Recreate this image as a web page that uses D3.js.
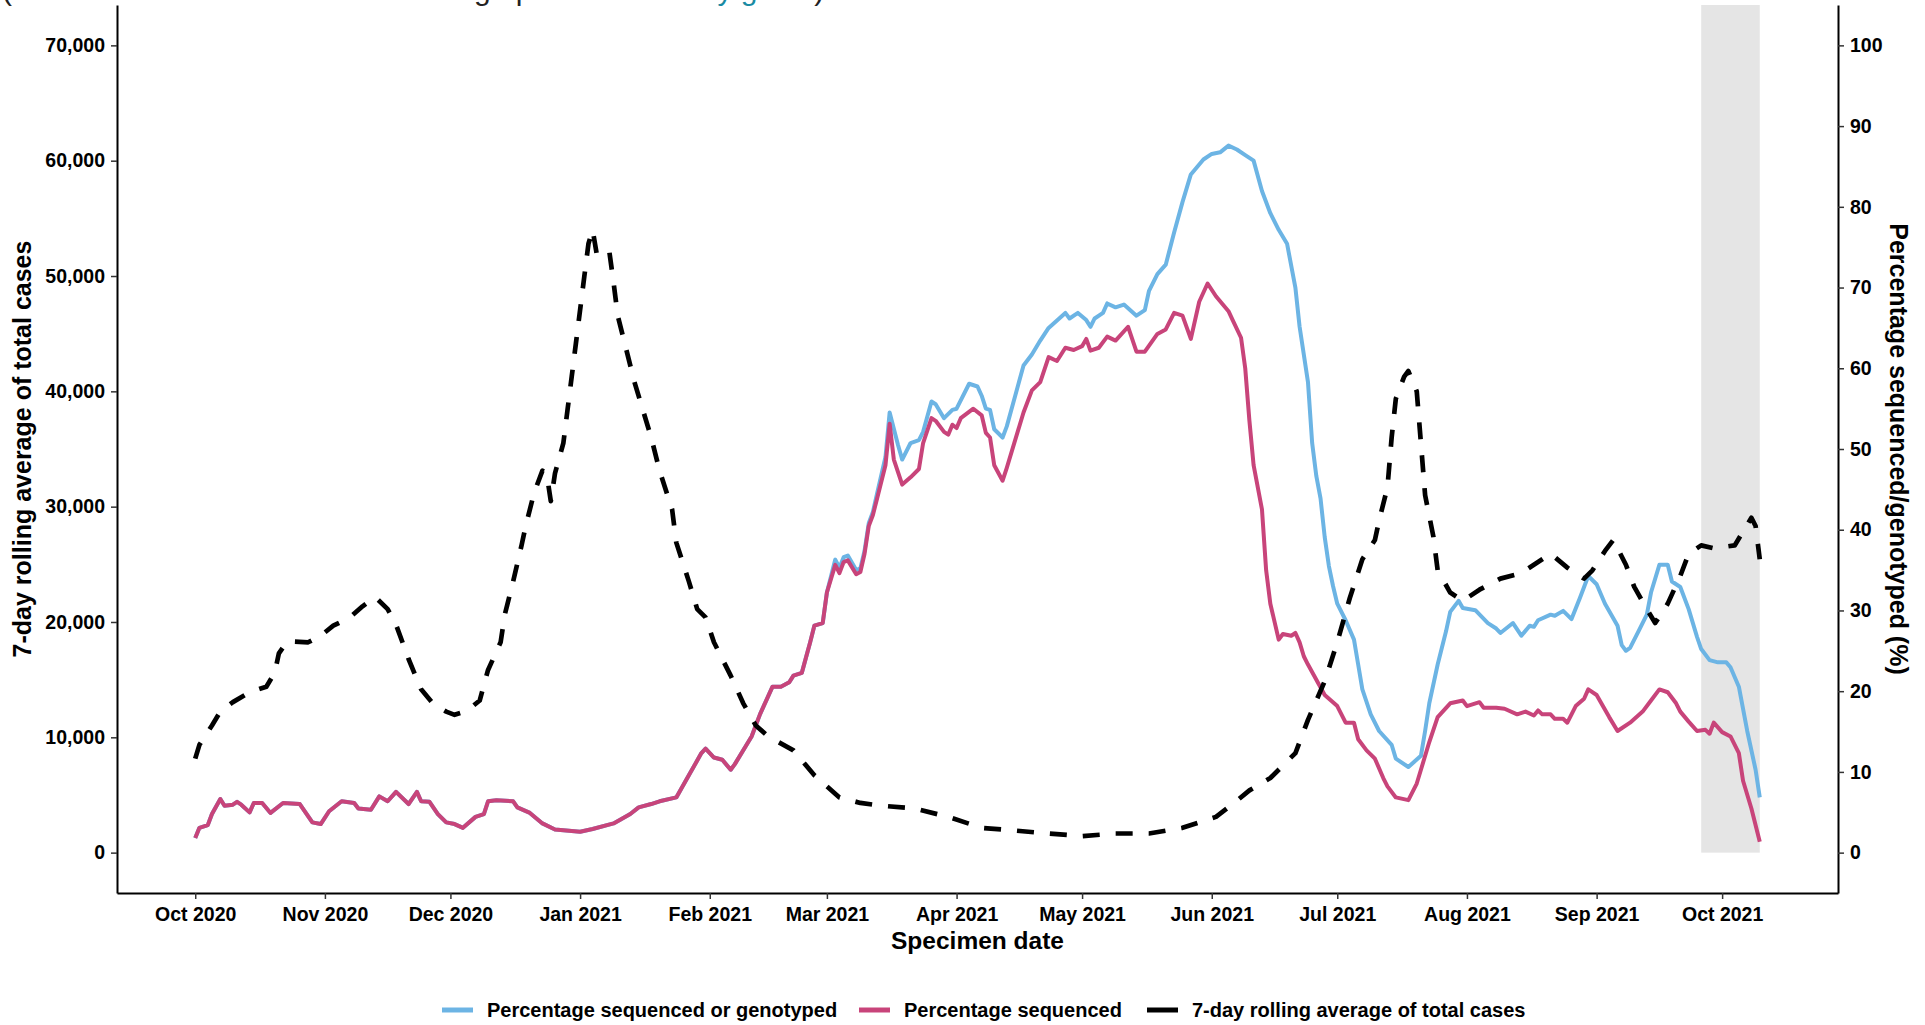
<!DOCTYPE html>
<html>
<head>
<meta charset="utf-8">
<script src="https://cdn.jsdelivr.net/npm/d3@7"></script>
<style>
  html, body { margin: 0; padding: 0; background: #ffffff; }
  svg { display: block; font-family: "Liberation Sans", Arial, sans-serif; }
</style>
</head>
<body>
<svg id="chart" width="1925" height="1025"></svg>
<script>
// ---- Tick labels ----
const monthTicks = ["2020-10-01","2020-11-01","2020-12-01","2021-01-01","2021-02-01","2021-03-01",
  "2021-04-01","2021-05-01","2021-06-01","2021-07-01","2021-08-01","2021-09-01","2021-10-01"];
const caseTicks = [0, 10000, 20000, 30000, 40000, 50000, 60000, 70000];
const pctTicks = [0, 10, 20, 30, 40, 50, 60, 70, 80, 90, 100];

// ---- 7-day rolling average of total cases ----
const caseDates = ["2020-10-01","2020-10-02","2020-10-05","2020-10-07","2020-10-10","2020-10-14","2020-10-18",
  "2020-10-20","2020-10-21","2020-10-23","2020-10-28","2020-10-31","2020-11-03","2020-11-07","2020-11-10",
  "2020-11-13","2020-11-16","2020-11-18","2020-11-21","2020-11-24","2020-11-27","2020-11-30","2020-12-02",
  "2020-12-05","2020-12-08","2020-12-10","2020-12-13","2020-12-14","2020-12-16","2020-12-18","2020-12-19",
  "2020-12-21","2020-12-23","2020-12-24","2020-12-25","2020-12-26","2020-12-28","2020-12-29","2020-12-30",
  "2020-12-31","2021-01-01","2021-01-02","2021-01-03","2021-01-04","2021-01-05","2021-01-07","2021-01-08",
  "2021-01-09","2021-01-10","2021-01-12","2021-01-14","2021-01-16","2021-01-18","2021-01-20","2021-01-23",
  "2021-01-24","2021-01-27","2021-01-29","2021-01-31","2021-02-02","2021-02-06","2021-02-09","2021-02-12",
  "2021-02-15","2021-02-21","2021-02-26","2021-03-04","2021-03-09","2021-03-14","2021-03-22","2021-03-30",
  "2021-04-07","2021-04-15","2021-04-23","2021-05-01","2021-05-09","2021-05-17","2021-05-25","2021-06-02",
  "2021-06-07","2021-06-10","2021-06-15","2021-06-21","2021-06-24","2021-06-28","2021-07-01","2021-07-04",
  "2021-07-07","2021-07-10","2021-07-11","2021-07-13","2021-07-14","2021-07-15","2021-07-17","2021-07-18",
  "2021-07-20","2021-07-21","2021-07-22","2021-07-24","2021-07-25","2021-07-28","2021-07-31","2021-08-04",
  "2021-08-09","2021-08-14","2021-08-19","2021-08-21","2021-08-25","2021-08-29","2021-08-31","2021-09-03",
  "2021-09-05","2021-09-06","2021-09-08","2021-09-10","2021-09-13","2021-09-15","2021-09-18","2021-09-21",
  "2021-09-23","2021-09-26","2021-09-29","2021-10-04","2021-10-06","2021-10-08","2021-10-09","2021-10-10"];
const caseAvg = [8150,9350,11030,12230,13050,13910,14390,
  15590,17280,18330,18240,18810,19680,20400,21360,
  22170,21120,19770,16790,14160,12850,12230,11950,
  12300,13190,15840,18240,20640,23520,26640,28320,
  31200,33120,32880,30480,32880,35520,38400,41280,
  44160,47050,49930,52800,54010,51850,51850,52090,
  49450,46560,43690,40800,38400,36000,33120,29760,
  26880,23520,21120,20400,18240,15350,12950,11030,
  10070,8870,6710,4790,4310,4070,3830,3100,
  2150,1910,1660,1430,1660,1660,2150,3100,
  4500,5400,6470,8630,11510,14870,18240,22080,
  25440,27110,28800,31680,36000,39360,41280,41760,
  40000,35500,31000,27360,24480,22550,21830,22800,
  23760,24240,25440,25920,24710,23760,24480,26160,
  27110,26390,24960,23040,21120,19910,21590,23990,
  25920,26640,26390,26640,27840,29040,28320,25440];

// ---- Percentage sequenced ----
const seqDates = ["2020-10-01","2020-10-02","2020-10-04","2020-10-05","2020-10-07","2020-10-08","2020-10-10",
  "2020-10-11","2020-10-12","2020-10-14","2020-10-15","2020-10-17","2020-10-19","2020-10-22","2020-10-26",
  "2020-10-29","2020-10-31","2020-11-02","2020-11-05","2020-11-08","2020-11-09","2020-11-12","2020-11-14",
  "2020-11-16","2020-11-18","2020-11-21","2020-11-23","2020-11-24","2020-11-26","2020-11-28","2020-11-30",
  "2020-12-02","2020-12-04","2020-12-07","2020-12-09","2020-12-10","2020-12-12","2020-12-16","2020-12-17",
  "2020-12-20","2020-12-23","2020-12-26","2021-01-01","2021-01-04","2021-01-09","2021-01-13","2021-01-15",
  "2021-01-18","2021-01-20","2021-01-24","2021-01-27","2021-01-30","2021-01-31","2021-02-02","2021-02-04",
  "2021-02-06","2021-02-07","2021-02-11","2021-02-13","2021-02-16","2021-02-18","2021-02-20","2021-02-21",
  "2021-02-23","2021-02-25","2021-02-26","2021-02-28","2021-03-01","2021-03-03","2021-03-04","2021-03-05",
  "2021-03-06","2021-03-08","2021-03-09","2021-03-10","2021-03-11","2021-03-12","2021-03-13","2021-03-15",
  "2021-03-16","2021-03-17","2021-03-19","2021-03-21","2021-03-23","2021-03-24","2021-03-26","2021-03-27",
  "2021-03-29","2021-03-30","2021-03-31","2021-04-01","2021-04-02","2021-04-05","2021-04-07","2021-04-08",
  "2021-04-09","2021-04-10","2021-04-12","2021-04-13","2021-04-15","2021-04-17","2021-04-19","2021-04-21",
  "2021-04-23","2021-04-25","2021-04-27","2021-04-29","2021-05-01","2021-05-02","2021-05-03","2021-05-05",
  "2021-05-07","2021-05-09","2021-05-12","2021-05-14","2021-05-16","2021-05-19","2021-05-21","2021-05-23",
  "2021-05-25","2021-05-27","2021-05-29","2021-05-31","2021-06-02","2021-06-05","2021-06-06","2021-06-08",
  "2021-06-09","2021-06-10","2021-06-11","2021-06-13","2021-06-14","2021-06-15","2021-06-17","2021-06-18",
  "2021-06-20","2021-06-21","2021-06-22","2021-06-23","2021-06-24","2021-06-28","2021-07-01","2021-07-03",
  "2021-07-05","2021-07-06","2021-07-08","2021-07-10","2021-07-12","2021-07-13","2021-07-15","2021-07-18",
  "2021-07-20","2021-07-21","2021-07-23","2021-07-25","2021-07-28","2021-07-31","2021-08-01","2021-08-04",
  "2021-08-05","2021-08-08","2021-08-10","2021-08-13","2021-08-15","2021-08-17","2021-08-18","2021-08-19",
  "2021-08-21","2021-08-22","2021-08-24","2021-08-25","2021-08-27","2021-08-29","2021-08-30","2021-09-01",
  "2021-09-04","2021-09-06","2021-09-09","2021-09-12","2021-09-14","2021-09-16","2021-09-18","2021-09-20",
  "2021-09-21","2021-09-23","2021-09-25","2021-09-27","2021-09-28","2021-09-29","2021-10-01","2021-10-03",
  "2021-10-05","2021-10-06","2021-10-08","2021-10-10"];
const seqPct = [1.8,3.07,3.41,4.78,6.64,5.81,5.94,
  6.29,5.94,4.99,6.15,6.15,4.92,6.15,6.02,
  3.75,3.54,5.13,6.36,6.15,5.47,5.32,6.97,
  6.36,7.53,6.02,7.53,6.36,6.29,4.78,3.75,
  3.54,3.07,4.43,4.78,6.36,6.5,6.36,5.61,
  4.92,3.62,2.86,2.59,2.93,3.62,4.78,5.61,
  6.02,6.36,6.84,9.58,12.33,12.88,11.78,11.5,
  10.27,10.96,14.39,17.13,20.56,20.56,21.11,21.93,
  22.27,26.05,28.11,28.44,32.22,35.65,34.62,36.0,
  36.2,34.49,34.76,37.02,40.45,41.83,43.88,47.99,
  53.14,48.69,45.59,46.49,47.52,50.74,53.82,53.49,
  52.12,51.77,53.01,52.6,53.82,54.99,54.17,52.0,
  51.42,47.99,46.07,47.66,51.09,54.52,57.26,58.28,
  61.38,60.9,62.54,62.27,62.74,63.64,62.19,62.54,
  63.92,63.43,65.14,62.06,62.06,64.25,64.81,66.86,
  66.52,63.64,68.24,70.5,68.92,67.07,65.97,63.78,
  60.0,53.5,48.0,42.51,34.97,30.84,26.39,27.08,
  26.87,27.21,26.05,24.33,23.3,19.53,18.15,16.1,
  16.1,14.04,12.67,11.64,9.24,8.21,6.84,6.5,
  8.56,10.27,13.7,16.79,18.5,18.85,18.15,18.64,
  17.95,17.95,17.82,17.13,17.47,16.99,17.61,17.13,
  17.13,16.58,16.58,16.1,18.15,19.06,20.22,19.53,
  16.79,15.07,16.1,17.47,18.85,20.22,19.87,18.5,
  17.47,16.23,15.07,15.21,14.73,16.1,14.93,14.39,
  12.33,8.9,5.47,1.35];

// ---- Percentage sequenced or genotyped ----
const seqGenoDates = ["2020-10-01","2020-10-02","2020-10-04","2020-10-05","2020-10-07","2020-10-08","2020-10-10",
  "2020-10-11","2020-10-12","2020-10-14","2020-10-15","2020-10-17","2020-10-19","2020-10-22","2020-10-26",
  "2020-10-29","2020-10-31","2020-11-02","2020-11-05","2020-11-08","2020-11-09","2020-11-12","2020-11-14",
  "2020-11-16","2020-11-18","2020-11-21","2020-11-23","2020-11-24","2020-11-26","2020-11-28","2020-11-30",
  "2020-12-02","2020-12-04","2020-12-07","2020-12-09","2020-12-10","2020-12-12","2020-12-16","2020-12-17",
  "2020-12-20","2020-12-23","2020-12-26","2021-01-01","2021-01-04","2021-01-09","2021-01-13","2021-01-15",
  "2021-01-18","2021-01-20","2021-01-24","2021-01-27","2021-01-30","2021-01-31","2021-02-02","2021-02-04",
  "2021-02-06","2021-02-07","2021-02-11","2021-02-13","2021-02-16","2021-02-18","2021-02-20","2021-02-21",
  "2021-02-23","2021-02-25","2021-02-26","2021-02-28","2021-03-01","2021-03-03","2021-03-04","2021-03-05",
  "2021-03-06","2021-03-08","2021-03-09","2021-03-10","2021-03-11","2021-03-12","2021-03-13","2021-03-15",
  "2021-03-16","2021-03-18","2021-03-19","2021-03-21","2021-03-23","2021-03-24","2021-03-26","2021-03-27",
  "2021-03-29","2021-03-31","2021-04-01","2021-04-04","2021-04-06","2021-04-07","2021-04-08","2021-04-09",
  "2021-04-10","2021-04-12","2021-04-13","2021-04-15","2021-04-17","2021-04-19","2021-04-21","2021-04-23",
  "2021-04-27","2021-04-28","2021-04-30","2021-05-02","2021-05-03","2021-05-04","2021-05-06","2021-05-07",
  "2021-05-09","2021-05-11","2021-05-14","2021-05-16","2021-05-17","2021-05-19","2021-05-21","2021-05-23",
  "2021-05-25","2021-05-27","2021-05-30","2021-06-01","2021-06-03","2021-06-05","2021-06-07","2021-06-09",
  "2021-06-11","2021-06-13","2021-06-15","2021-06-17","2021-06-19","2021-06-21","2021-06-22","2021-06-24",
  "2021-06-25","2021-06-26","2021-06-27","2021-06-28","2021-06-29","2021-06-30","2021-07-01","2021-07-03",
  "2021-07-05","2021-07-06","2021-07-07","2021-07-09","2021-07-11","2021-07-14","2021-07-15","2021-07-18",
  "2021-07-21","2021-07-22","2021-07-23","2021-07-25","2021-07-27","2021-07-28","2021-07-30","2021-07-31",
  "2021-08-03","2021-08-06","2021-08-08","2021-08-09","2021-08-12","2021-08-14","2021-08-16","2021-08-17",
  "2021-08-18","2021-08-21","2021-08-22","2021-08-24","2021-08-26","2021-08-28","2021-08-30","2021-09-01",
  "2021-09-03","2021-09-06","2021-09-07","2021-09-08","2021-09-09","2021-09-11","2021-09-13","2021-09-14",
  "2021-09-16","2021-09-18","2021-09-19","2021-09-21","2021-09-23","2021-09-25","2021-09-26","2021-09-28",
  "2021-09-30","2021-10-02","2021-10-03","2021-10-05","2021-10-07","2021-10-09","2021-10-10"];
const seqGenoPct = [1.8,3.07,3.41,4.78,6.64,5.81,5.94,
  6.29,5.94,4.99,6.15,6.15,4.92,6.15,6.02,
  3.75,3.54,5.13,6.36,6.15,5.47,5.32,6.97,
  6.36,7.53,6.02,7.53,6.36,6.29,4.78,3.75,
  3.54,3.07,4.43,4.78,6.36,6.5,6.36,5.61,
  4.92,3.62,2.86,2.59,2.93,3.62,4.78,5.61,
  6.02,6.36,6.84,9.58,12.33,12.88,11.78,11.5,
  10.27,10.96,14.39,17.13,20.56,20.56,21.11,21.93,
  22.27,26.05,28.11,28.44,32.22,36.3,35.3,36.6,
  36.8,35.0,35.2,37.4,40.8,42.2,44.5,49.0,
  54.52,50.5,48.69,50.74,51.09,52.12,55.88,55.55,
  53.82,54.85,54.99,58.08,57.74,56.6,55.0,54.85,
  52.45,51.42,52.8,56.57,60.35,61.71,63.43,65.0,
  66.86,66.17,66.86,65.97,65.14,66.17,66.86,68.03,
  67.55,67.89,66.52,67.21,69.6,71.67,72.83,76.81,
  80.58,84.01,85.86,86.55,86.75,87.58,87.1,86.41,
  85.72,81.96,79.21,77.15,75.43,69.95,65.14,58.28,
  50.74,46.63,43.88,39.08,35.5,33.0,30.84,28.79,
  26.39,23.3,20.22,17.13,15.07,13.36,11.64,10.61,
  11.99,15.07,18.5,23.3,27.41,29.82,31.19,30.3,
  30.03,28.44,27.76,27.21,28.44,26.87,28.11,27.97,
  28.79,29.48,29.34,29.95,28.93,31.54,34.27,33.25,
  30.84,28.11,25.71,25.01,25.36,27.41,29.48,32.22,
  35.65,35.65,33.59,32.91,30.16,26.73,25.22,23.85,
  23.57,23.57,22.96,20.55,15.07,10.27,6.84];

// ---- Period of incomplete data (shaded) ----
const shadeDates = ["2021-09-26", "2021-10-10"];

// ---- Legend ----
const seriesLabels = ["Percentage sequenced or genotyped", "Percentage sequenced", "7-day rolling average of total cases"];
const seriesColors = ["#6cb4e4", "#c8447a", "#000000"];

// ---------------------------------------------------------------
const parse = d3.utcParse("%Y-%m-%d");
const svg = d3.select("#chart");
const W = 1925, H = 1025;
const panel = { left: 117, right: 1838, top: 5, bottom: 893 };

svg.append("rect").attr("width", W).attr("height", H).attr("fill", "#ffffff");

// Caption line running off the top edge (only its descenders fall inside the page)
const cap = svg.append("text")
  .attr("x", 2).attr("y", -0.5)
  .attr("font-size", 30)
  .attr("fill", "#222222");
cap.append("tspan").text("(The shaded area data are still being updated. See ");
cap.append("tspan").attr("fill", "#1a8ba3").text("key guide");
cap.append("tspan").text(")");

// Scales: time axis padded 5% on each side of the data range
const allDates = caseDates.concat(seqDates, seqGenoDates).map(parse);
const [t0, t1] = d3.extent(allDates);
const pad = (t1 - t0) * 0.05;
const x = d3.scaleUtc()
  .domain([new Date(+t0 - pad), new Date(+t1 + pad)])
  .range([panel.left, panel.right]);

const y = d3.scaleLinear().domain([-3500, 73500]).range([panel.bottom, panel.top]);
const yPct = d3.scaleLinear().domain([-5, 105]).range([panel.bottom, panel.top]);

// Shaded incomplete-data window
svg.append("rect")
  .attr("x", x(parse(shadeDates[0])))
  .attr("width", x(parse(shadeDates[1])) - x(parse(shadeDates[0])))
  .attr("y", panel.top)
  .attr("height", y(0) - panel.top)
  .attr("fill", "#e5e5e5");

// Lines
const pctLine = d3.line().x(d => x(d[0])).y(d => yPct(d[1]));
const caseLine = d3.line().x(d => x(d[0])).y(d => y(d[1]));

const seqGeno = seqGenoDates.map((d, i) => [parse(d), seqGenoPct[i]]);
const seq = seqDates.map((d, i) => [parse(d), seqPct[i]]);
const cases = caseDates.map((d, i) => [parse(d), caseAvg[i]]);

svg.append("path").datum(seqGeno).attr("d", pctLine)
  .attr("fill", "none").attr("stroke", seriesColors[0]).attr("stroke-width", 4)
  .attr("stroke-linejoin", "round");
svg.append("path").datum(seq).attr("d", pctLine)
  .attr("fill", "none").attr("stroke", seriesColors[1]).attr("stroke-width", 4)
  .attr("stroke-linejoin", "round");
svg.append("path").datum(cases).attr("d", caseLine)
  .attr("fill", "none").attr("stroke", seriesColors[2]).attr("stroke-width", 4.7)
  .attr("stroke-dasharray", "17,16").attr("stroke-linejoin", "round");

// Axes
function styleAxis(g) {
  g.selectAll(".domain").attr("stroke", "#000").attr("stroke-width", 2);
  g.selectAll(".tick line").attr("stroke", "#333").attr("stroke-width", 1.5);
  g.selectAll(".tick text")
    .attr("font-family", "\"Liberation Sans\", Arial, sans-serif")
    .attr("font-size", 19.5).attr("font-weight", "bold").attr("fill", "#000");
}

svg.append("g").attr("transform", `translate(${panel.left},0)`)
  .call(d3.axisLeft(y).tickValues(caseTicks).tickFormat(d3.format(","))
    .tickSize(6).tickSizeOuter(0).tickPadding(6))
  .call(styleAxis);

svg.append("g").attr("transform", `translate(${panel.right},0)`)
  .call(d3.axisRight(yPct).tickValues(pctTicks).tickFormat(d3.format("d"))
    .tickSize(6).tickSizeOuter(0).tickPadding(6))
  .call(styleAxis);

svg.append("g").attr("transform", `translate(0,${panel.bottom})`)
  .call(d3.axisBottom(x).tickValues(monthTicks.map(parse)).tickFormat(d3.utcFormat("%b %Y"))
    .tickSize(6).tickSizeOuter(0).tickPadding(8))
  .call(styleAxis);

// Axis titles
svg.append("text")
  .attr("transform", `translate(31,${(panel.top + panel.bottom) / 2}) rotate(-90)`)
  .attr("text-anchor", "middle")
  .attr("font-size", 25).attr("font-weight", "bold")
  .text("7-day rolling average of total cases");

svg.append("text")
  .attr("transform", `translate(1890,${(panel.top + panel.bottom) / 2}) rotate(90)`)
  .attr("text-anchor", "middle")
  .attr("font-size", 25).attr("font-weight", "bold")
  .text("Percentage sequenced/genotyped (%)");

svg.append("text")
  .attr("x", (panel.left + panel.right) / 2).attr("y", 949)
  .attr("text-anchor", "middle")
  .attr("font-size", 24.5).attr("font-weight", "bold")
  .text("Specimen date");

// Legend
const legendX = [442, 859, 1147];
const legend = svg.append("g");
seriesLabels.forEach((label, i) => {
  legend.append("line")
    .attr("x1", legendX[i]).attr("x2", legendX[i] + 31)
    .attr("y1", 1010).attr("y2", 1010)
    .attr("stroke", seriesColors[i]).attr("stroke-width", 5);
  legend.append("text")
    .attr("x", legendX[i] + 45).attr("y", 1017)
    .attr("font-size", 20).attr("font-weight", "bold")
    .text(label);
});
</script>
</body>
</html>
